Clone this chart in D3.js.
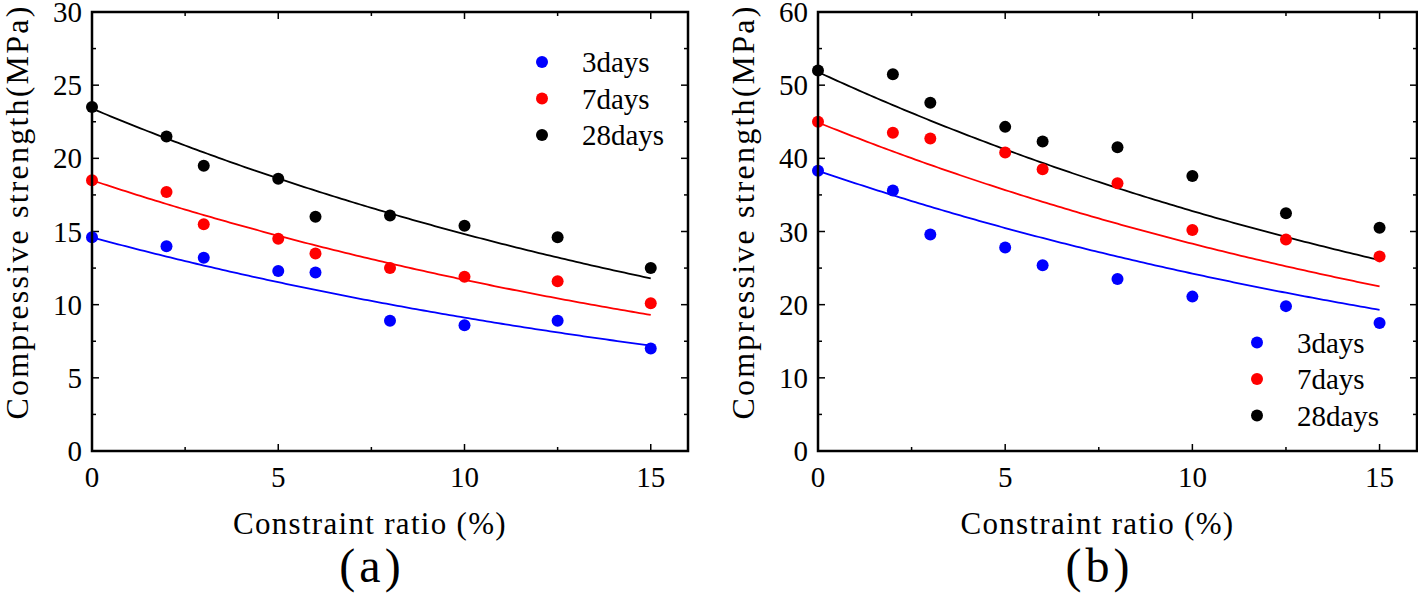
<!DOCTYPE html>
<html><head><meta charset="utf-8">
<script src="https://cdn.jsdelivr.net/npm/d3@7"></script>
</head><body style="margin:0">
<svg id="c" width="1418" height="605" font-family="Liberation Serif"></svg>
<script>
const ratios = [0, 2, 3, 5, 6, 8, 10, 12.5, 15];
const seriesNames = ["3days", "7days", "28days"];
const seriesColors = ["#0000ff", "#ff0000", "#000000"];
// panel (a)
const a3 = [14.6, 14.0, 13.2, 12.3, 12.2, 8.9, 8.6, 8.9, 7.0];
const a7 = [18.5, 17.7, 15.5, 14.5, 13.5, 12.5, 11.9, 11.6, 10.1];
const a28 = [23.5, 21.5, 19.5, 18.6, 16.0, 16.1, 15.4, 14.6, 12.5];
// exponential fit parameters y = A*exp(B*x)
const aFitA = [14.6, 18.5, 23.4];
const aFitB = [-0.0471, -0.04585, -0.04565];
// panel (b)
const b3 = [38.3, 35.6, 29.6, 27.8, 25.4, 23.5, 21.1, 19.8, 17.5];
const b7 = [45.0, 43.5, 42.7, 40.8, 38.5, 36.6, 30.2, 28.9, 26.6];
const b28 = [52.0, 51.5, 47.6, 44.3, 42.3, 41.5, 37.6, 32.5, 30.5];
const bFitA = [38.3, 44.9, 51.8];
const bFitB = [-0.0457, -0.04606, -0.0457];

const xTicks = [0, 5, 10, 15];
const aYTicks = [0, 5, 10, 15, 20, 25, 30];
const bYTicks = [0, 10, 20, 30, 40, 50, 60];

const svg = d3.select("#c");
function txt(g, x, y, s, size, anchor) {
  return g.append("text").attr("x", x).attr("y", y)
    .attr("font-family", "Liberation Serif").style("font-family", "Liberation Serif")
    .attr("font-size", size).attr("text-anchor", anchor || "start").text(s);
}

function panel(opts) {
  const {left, right, top, bottom, ymax, yTicks, series, fitA, fitB, label, legendX, legendY} = opts;
  const x = d3.scaleLinear().domain([0, 16]).range([left, right]);
  const y = d3.scaleLinear().domain([0, ymax]).range([bottom, top]);
  const g = svg.append("g");
  const ystep = yTicks[1] - yTicks[0];
  const xMinor = d3.range(2.5, 16, 5);
  const yMinor = d3.range(ystep / 2, ymax, ystep);

  const tl = 7, tm = 4;
  const tk = g.append("g").attr("stroke", "#000").attr("stroke-width", 1.5);
  xTicks.forEach(v => {
    tk.append("line").attr("x1", x(v)).attr("x2", x(v)).attr("y1", bottom).attr("y2", bottom - tl);
    tk.append("line").attr("x1", x(v)).attr("x2", x(v)).attr("y1", top).attr("y2", top + tl);
  });
  xMinor.forEach(v => {
    tk.append("line").attr("x1", x(v)).attr("x2", x(v)).attr("y1", bottom).attr("y2", bottom - tm);
    tk.append("line").attr("x1", x(v)).attr("x2", x(v)).attr("y1", top).attr("y2", top + tm);
  });
  yTicks.forEach(v => {
    tk.append("line").attr("y1", y(v)).attr("y2", y(v)).attr("x1", left).attr("x2", left + tl);
    tk.append("line").attr("y1", y(v)).attr("y2", y(v)).attr("x1", right).attr("x2", right - tl);
  });
  yMinor.forEach(v => {
    tk.append("line").attr("y1", y(v)).attr("y2", y(v)).attr("x1", left).attr("x2", left + tm);
    tk.append("line").attr("y1", y(v)).attr("y2", y(v)).attr("x1", right).attr("x2", right - tm);
  });

  const fx = d3.range(0, 15.001, 0.1);
  const line = d3.line().x(d => x(d[0])).y(d => y(d[1]));
  fitA.forEach((A, i) => {
    g.append("path").attr("d", line(fx.map(t => [t, A * Math.exp(fitB[i] * t)])))
      .attr("fill", "none").attr("stroke", seriesColors[i]).attr("stroke-width", 1.8);
  });
  series.forEach((vals, i) => {
    g.selectAll(null).data(vals).join("circle")
      .attr("cx", (d, j) => x(ratios[j])).attr("cy", d => y(d)).attr("r", 6)
      .attr("fill", seriesColors[i]);
  });

  g.append("rect").attr("x", left).attr("y", top).attr("width", right - left).attr("height", bottom - top)
    .attr("fill", "none").attr("stroke", "#000").attr("stroke-width", 2.5);

  xTicks.forEach(v => txt(g, x(v), bottom + 36, String(v), 29, "middle"));
  yTicks.forEach(v => txt(g, left - 10, y(v) + 10, String(v), 29, "end"));

  const cx = (left + right) / 2 - 20;
  txt(g, cx, bottom + 83, "Constraint ratio (%)", 31, "middle").attr("letter-spacing", 1.3);
  txt(g, 0, 0, "Compressive strength(MPa)", 32, "middle").attr("letter-spacing", 2.2)
    .attr("transform", `translate(${left - 64},${212}) rotate(-90)`);
  txt(g, cx + 2, bottom + 131, label, 48, "middle").attr("letter-spacing", 4);

  seriesNames.forEach((n, i) => {
    const ly = legendY + i * 36.5;
    g.append("circle").attr("cx", legendX).attr("cy", ly).attr("r", 6).attr("fill", seriesColors[i]);
    txt(g, legendX + 40, ly + 10, n, 29);
  });
}

panel({left: 92, right: 688, top: 12, bottom: 451, ymax: 30, yTicks: aYTicks,
  series: [a3, a7, a28], fitA: aFitA, fitB: aFitB, label: "(a)", legendX: 542, legendY: 62});
panel({left: 818, right: 1417, top: 12, bottom: 451, ymax: 60, yTicks: bYTicks,
  series: [b3, b7, b28], fitA: bFitA, fitB: bFitB, label: "(b)", legendX: 1257, legendY: 342.5});
</script>
</body></html>
